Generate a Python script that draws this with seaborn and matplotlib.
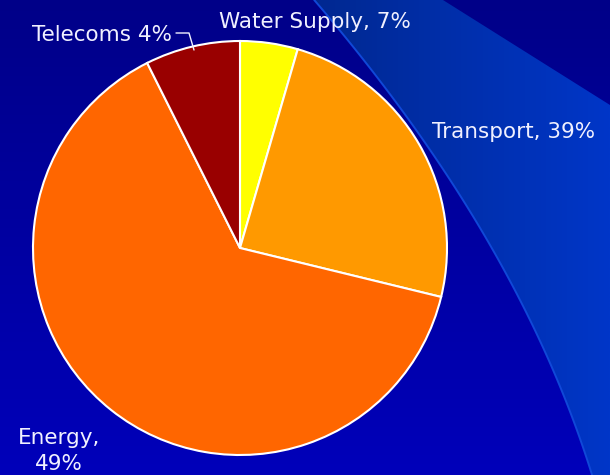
import numpy as np
import matplotlib
matplotlib.use('Agg')
import matplotlib.pyplot as plt
import seaborn as sns
from matplotlib.patches import Polygon

# slice sizes as drawn, and the label texts printed next to them
sectors = ['Water Supply', 'Transport', 'Energy', 'Telecoms']
slice_sizes = [4.5, 24.3, 63.8, 7.4]
label_texts = ['Water Supply, 7%', 'Transport, 39%', 'Energy,\n49%', 'Telecoms 4%']
slice_colors = ['#FFFF00', '#FF9900', '#FF6600', '#990000']

sns.set_theme(style='white')
plt.rcParams['font.family'] = ['DejaVu Sans']

W, H = 610, 475
fig = plt.figure(figsize=(6.1, 4.75), dpi=100)
ax = fig.add_axes([0, 0, 1, 1])

# dark blue vertical gradient background (top darker)
grad = np.linspace(0, 1, 256).reshape(-1, 1)
top = np.array([0x00, 0x00, 0x88]) / 255
bottom = np.array([0x00, 0x00, 0xBA]) / 255
bg = top + (bottom - top) * grad[:, :, None]
ax.imshow(bg, extent=(0, W, 0, H), aspect='auto', zorder=0, origin='upper')

# lighter curved band on the right (smooth left edge)
ey_px = np.array([0, 55, 110, 200, 300, 385, 475])
ex_px = np.array([313, 360, 405, 460, 520, 560, 592])
coef = np.polyfit(ey_px, ex_px, 2)
yy = np.linspace(0, H, 80)
xx = np.polyval(coef, yy)
edge = list(zip(xx, H - yy))
upper = [(W, 0), (W, H - 105), (443, H)]
band = Polygon(edge + upper, closed=True, facecolor='none', edgecolor='none')
ax.add_patch(band)
hgrad = np.linspace(0, 1, 256).reshape(1, -1)
left_c = np.array([0x00, 0x28, 0x90]) / 255
right_c = np.array([0x00, 0x36, 0xC8]) / 255
band_img = left_c + (right_c - left_c) * hgrad[:, :, None]
im = ax.imshow(band_img, extent=(313, W, 0, H), aspect='auto', zorder=1)
im.set_clip_path(band)
ax.plot(xx, H - yy, color='#1048D8', lw=1.4, zorder=1.5)

# the pie
ax.pie(slice_sizes, colors=slice_colors, startangle=90, counterclock=False,
       center=(240, H - 248), radius=207, frame=True,
       wedgeprops=dict(edgecolor='white', linewidth=1.5, zorder=2))
ax.set_xlim(0, W)
ax.set_ylim(0, H)
ax.set_aspect('equal')
ax.axis('off')

txt = dict(color='#F0F0FF', fontsize=15.5, zorder=3)
ax.text(315, H - 22, label_texts[0], ha='center', va='center', **txt)
ax.text(514, H - 132, label_texts[1], ha='center', va='center', **txt)
ax.text(59, H - 451, label_texts[2], ha='center', va='center', linespacing=1.4, **txt)
ax.text(102, H - 35, label_texts[3], ha='center', va='center', **txt)
ax.plot([176, 189, 194], [H - 33, H - 33, H - 50], color='#F0F0FF', lw=1, zorder=3)

fig.savefig('out.png', dpi=100)
